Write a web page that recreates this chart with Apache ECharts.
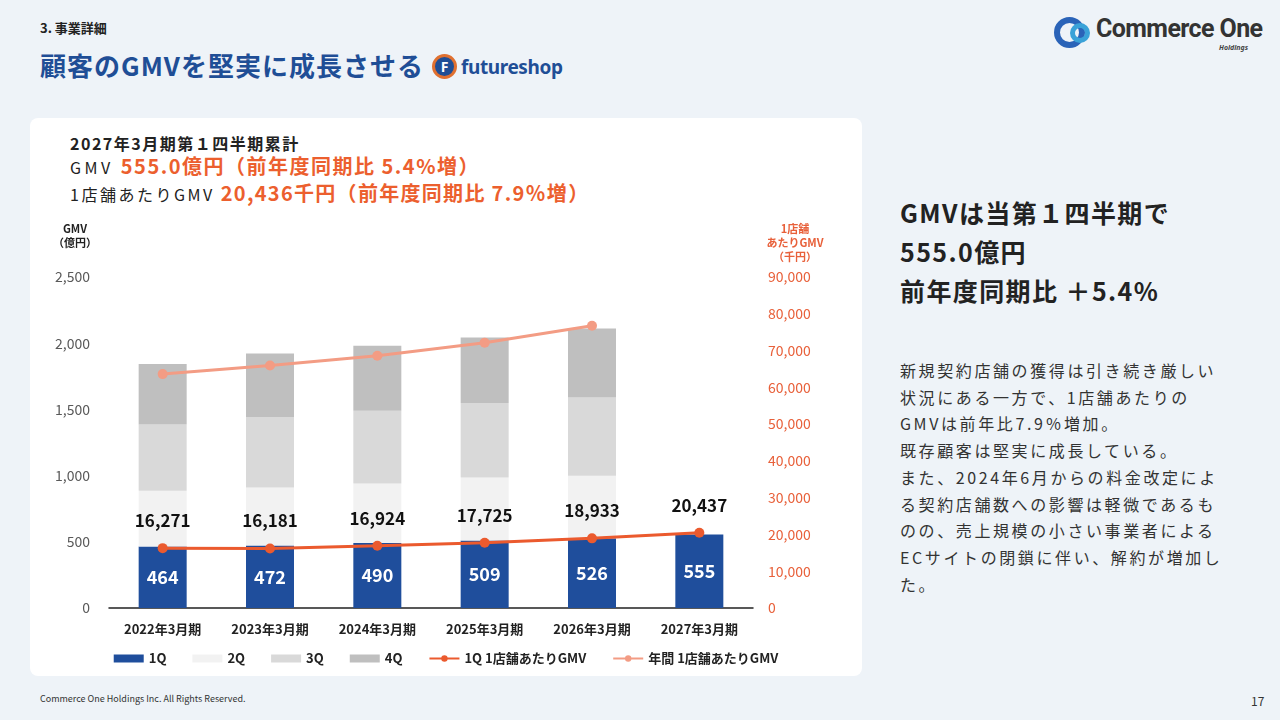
<!DOCTYPE html>
<html><head><meta charset="utf-8">
<script src="https://cdn.jsdelivr.net/npm/echarts@6/dist/echarts.min.js"></script>
<style>
html,body{margin:0;padding:0;}
body{width:1280px;height:720px;background:#eef3f8;position:relative;overflow:hidden;font-family:"Noto Sans CJK JP","Noto Sans",sans-serif;color:#222;}
.abs{position:absolute;white-space:nowrap;}
#panel{position:absolute;left:30px;top:118px;width:832px;height:558px;background:#fff;border-radius:8px;}
#chart{position:absolute;left:30px;top:118px;width:832px;height:558px;}
.or{color:#ec5f2e;font-weight:700;}
</style></head>
<body>
<div class="abs" style="left:40px;top:18px;font-size:13px;font-weight:700;">3. 事業詳細</div>
<div class="abs" style="left:40px;top:46px;font-size:26px;font-weight:700;color:#1f4e96;letter-spacing:1px;">顧客のGMVを堅実に成長させる</div>
<div class="abs" style="left:432px;top:54px;width:25px;height:25px;border-radius:50%;background:#1f4e96;border:3px solid #e07030;box-sizing:border-box;color:#fff;font-weight:700;font-size:14px;text-align:center;line-height:20px;font-family:'Noto Sans',sans-serif;">F</div>
<div class="abs" style="left:461px;top:54px;font-size:19px;font-weight:700;color:#1f4e96;font-family:'Noto Sans',sans-serif;letter-spacing:-0.4px;">futureshop</div>

<div class="abs" style="left:1054px;top:17px;width:31px;height:31px;border-radius:50%;border:6px solid #2a63b8;box-sizing:border-box;"></div>
<div class="abs" style="left:1070px;top:23px;width:20px;height:20px;border-radius:50%;border:5px solid #3aa2d8;box-sizing:border-box;"></div>
<div class="abs" style="left:1096px;top:14px;font-size:25px;font-weight:700;color:#333;font-family:'Roboto','Noto Sans',sans-serif;letter-spacing:-0.6px;">Commerce One</div>
<div class="abs" style="left:1219px;top:43px;font-size:7px;font-weight:700;font-style:italic;color:#444;font-family:'Noto Sans',sans-serif;">Holdings</div>

<div id="panel"></div>
<div class="abs" style="left:70px;top:131px;font-size:16px;font-weight:700;letter-spacing:1.5px;">2027年3月期第１四半期累計</div>
<div class="abs" style="left:70px;top:151px;font-size:16px;letter-spacing:3.5px;">GMV <span class="or" style="font-size:20px;letter-spacing:1.5px;">555.0億円（前年度同期比 5.4%増）</span></div>
<div class="abs" style="left:70px;top:178px;font-size:16px;letter-spacing:2.5px;">1店舗あたりGMV <span class="or" style="font-size:20px;letter-spacing:1.3px;">20,436千円（前年度同期比 7.9％増）</span></div>

<div id="chart"></div>

<div class="abs" style="left:900px;top:193px;font-size:25px;font-weight:700;line-height:39px;letter-spacing:1.4px;">GMVは当第１四半期で<br>555.0億円<br>前年度同期比 ＋5.4%</div>
<div class="abs" style="left:900px;top:357px;font-size:16px;line-height:26.7px;letter-spacing:2.6px;color:#333;white-space:normal;width:380px;">新規契約店舗の獲得は引き続き厳しい<br>状況にある一方で、1店舗あたりの<br>GMVは前年比7.9％増加。<br>既存顧客は堅実に成長している。<br>また、2024年6月からの料金改定によ<br>る契約店舗数への影響は軽微であるも<br>のの、売上規模の小さい事業者による<br>ECサイトの閉鎖に伴い、解約が増加し<br>た。</div>

<div class="abs" style="left:40px;top:692px;font-size:9px;color:#333;">Commerce One Holdings Inc. All Rights Reserved.</div>
<div class="abs" style="left:1251px;top:692px;font-size:12px;color:#333;">17</div>

<script>
var categories = ['2022年3月期','2023年3月期','2024年3月期','2025年3月期','2026年3月期','2027年3月期'];
var q1 = [464, 472, 490, 509, 526, 555];
var q2 = [422, 439, 451, 477, 473, null];
var q3 = [500, 531, 549, 562, 591, null];
var q4 = [456, 480, 490, 495, 521, null];
var q1PerStore = [16271, 16181, 16924, 17725, 18933, 20437];
var annualPerStore = [63600, 65950, 68600, 72150, 76750, null];
var leftTicks = {min: 0, max: 2500, interval: 500};
var rightTicks = {min: 0, max: 90000, interval: 10000};

var chart = echarts.init(document.getElementById('chart'));
var ff = '"Noto Sans CJK JP","Noto Sans",sans-serif';
function fmt(v){return Number(v).toLocaleString('en-US');}
chart.setOption({
  animation: false,
  textStyle: {fontFamily: ff},
  grid: {left: 79, right: 109, top: 159, bottom: 68},
  legend: {
    left: 'center', bottom: 6, itemWidth: 30, itemHeight: 8, itemGap: 26,
    textStyle: {fontSize: 13, fontWeight: 'bold', color: '#222', fontFamily: ff},
    data: [
      {name: '1Q', icon: 'rect'}, {name: '2Q', icon: 'rect'}, {name: '3Q', icon: 'rect'}, {name: '4Q', icon: 'rect'},
      {name: '1Q 1店舗あたりGMV'}, {name: '年間 1店舗あたりGMV'}
    ]
  },
  graphic: [
    {type: 'text', x: 45, y: 104, style: {text: 'GMV\n（億円）', fill: '#222', font: 'bold 11px ' + ff, align: 'center', lineHeight: 14}},
    {type: 'text', x: 765, y: 104, style: {text: '1店舗\nあたりGMV\n（千円）', fill: '#e8603a', font: 'bold 11px ' + ff, align: 'center', lineHeight: 14}}
  ],
  xAxis: {
    type: 'category', data: categories,
    axisLine: {lineStyle: {color: '#222', width: 1.5}},
    axisTick: {show: false},
    axisLabel: {color: '#222', fontSize: 13, fontWeight: 'bold', margin: 15}
  },
  yAxis: [
    {type: 'value', min: leftTicks.min, max: leftTicks.max, interval: leftTicks.interval,
     splitLine: {show: false}, axisLine: {show: false}, axisTick: {show: false},
     axisLabel: {color: '#595959', fontSize: 14, margin: 19, formatter: fmt}},
    {type: 'value', min: rightTicks.min, max: rightTicks.max, interval: rightTicks.interval,
     splitLine: {show: false}, axisLine: {show: false}, axisTick: {show: false},
     axisLabel: {color: '#e8603a', fontSize: 14, margin: 15, formatter: fmt}}
  ],
  series: [
    {name: '1Q', type: 'bar', stack: 'g', barWidth: 48, data: q1, itemStyle: {color: '#1f4e9c'},
     label: {show: true, position: 'inside', color: '#fff', fontSize: 18, fontWeight: 'bold'}},
    {name: '2Q', type: 'bar', stack: 'g', barWidth: 48, data: q2, itemStyle: {color: '#f2f2f2'}},
    {name: '3Q', type: 'bar', stack: 'g', barWidth: 48, data: q3, itemStyle: {color: '#d9d9d9'}},
    {name: '4Q', type: 'bar', stack: 'g', barWidth: 48, data: q4, itemStyle: {color: '#bfbfbf'}},
    {name: '1Q 1店舗あたりGMV', type: 'line', yAxisIndex: 1, data: q1PerStore, symbol: 'circle', symbolSize: 10,
     lineStyle: {color: '#eb5a2e', width: 3}, itemStyle: {color: '#eb5a2e'},
     label: {show: true, position: 'top', distance: 14, color: '#111', fontSize: 17, fontWeight: 'bold', formatter: function(p){return fmt(p.value);}}},
    {name: '年間 1店舗あたりGMV', type: 'line', yAxisIndex: 1, data: annualPerStore, symbol: 'circle', symbolSize: 10,
     lineStyle: {color: '#f39c84', width: 3}, itemStyle: {color: '#f39c84'}}
  ]
});
</script>
</body></html>
